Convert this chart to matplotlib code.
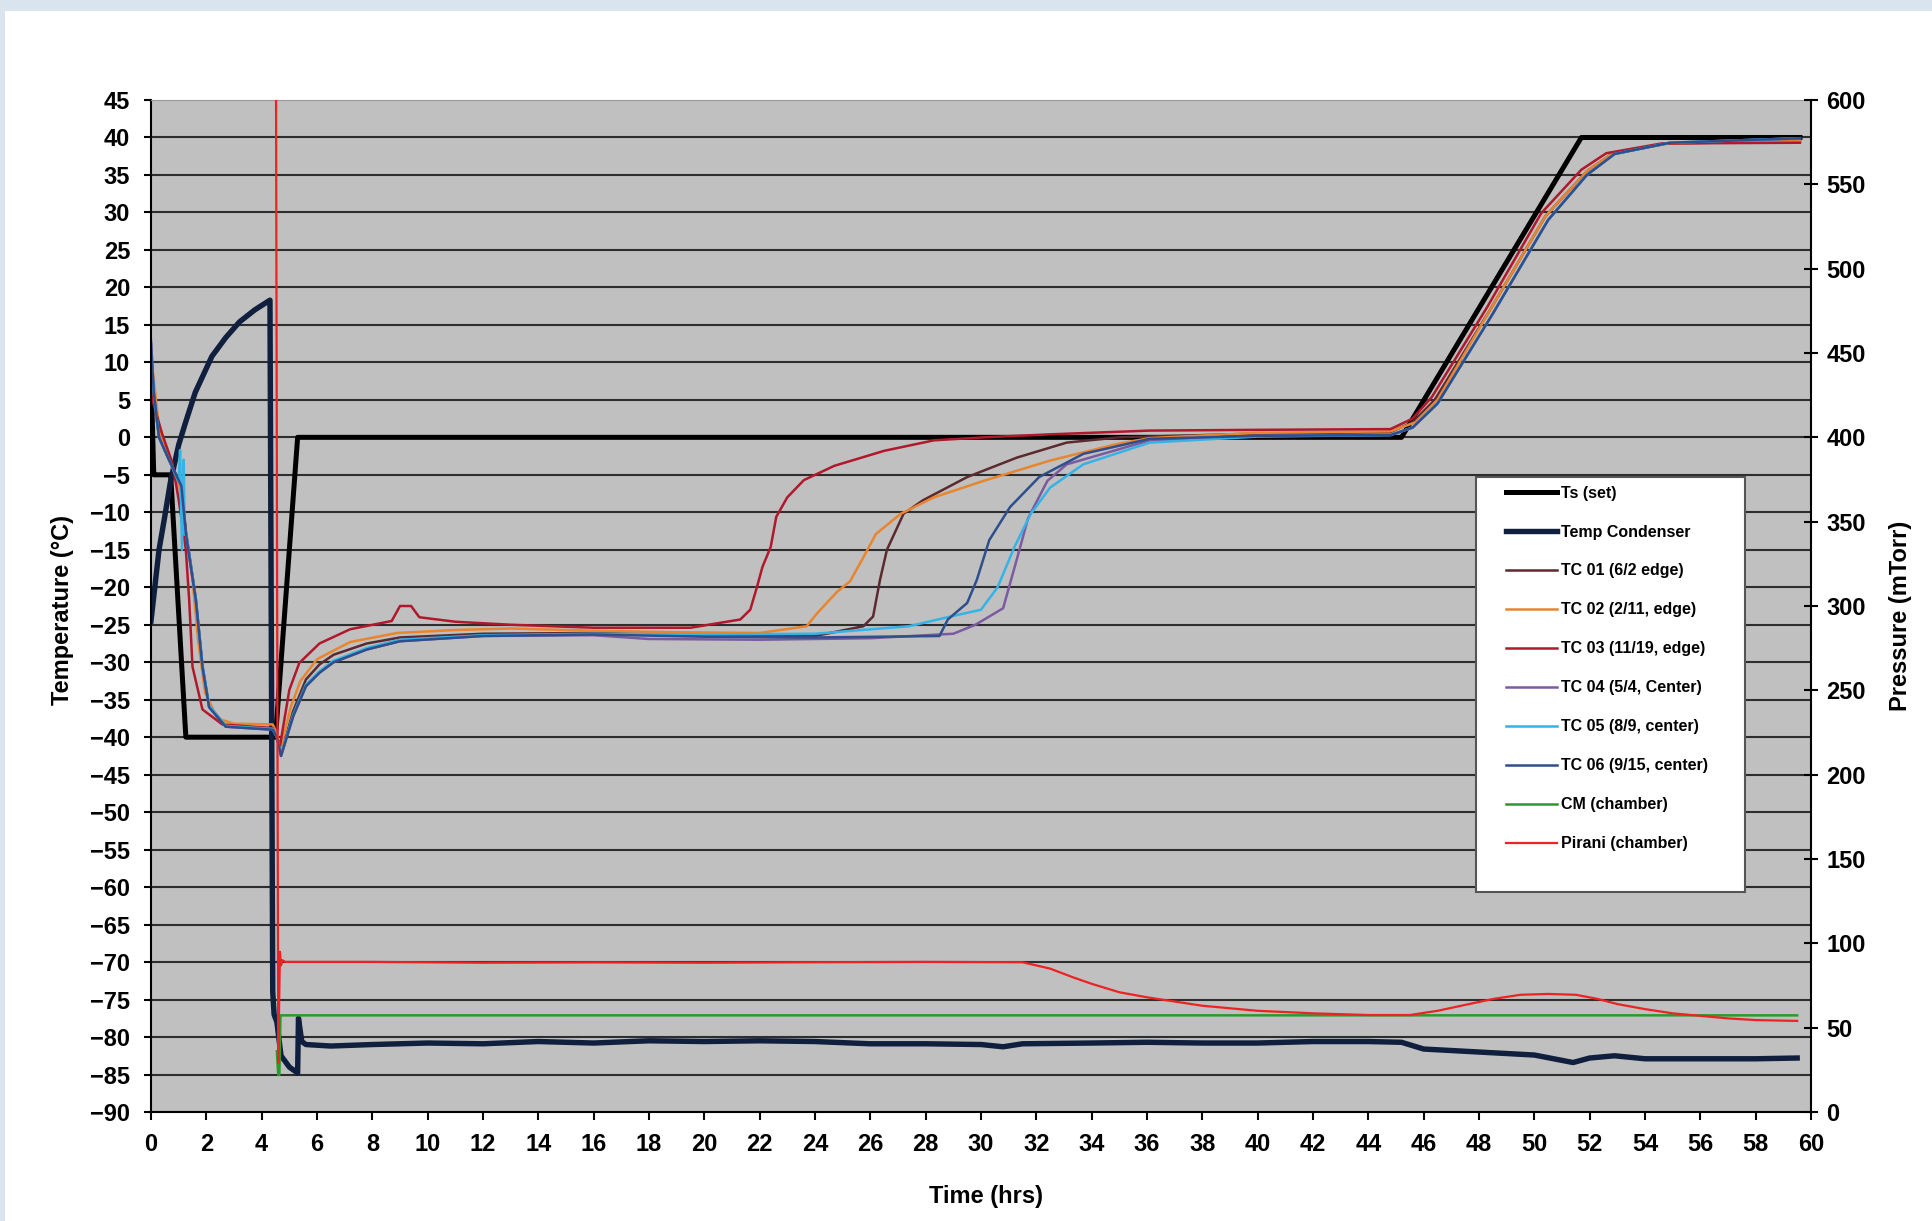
import numpy as np
import matplotlib
matplotlib.use("Agg")
import matplotlib.pyplot as plt
from matplotlib.patches import Rectangle

plt.rcParams['font.family'] = ['Liberation Sans', 'DejaVu Sans']

# ---- data ----
# shelf set point
ts_t = [0, 0.1, 0.17, 0.71, 1.26, 4.5, 5.3, 45.2, 51.7, 59.6]
ts_T = [8.6, -5, -5, -5, -40, -40, 0, 0, 40, 40]

# condenser temperature
cond_t = [0, 0.29, 0.5, 0.7, 1.0, 1.25, 1.6, 2.2, 2.7, 3.2, 3.75, 4.3, 4.4, 4.45, 4.55,
          4.7, 5.0, 5.3, 5.33, 5.45, 5.6, 6.5, 8, 10, 12, 14, 16, 18, 20, 22, 24, 26, 28,
          30, 30.8, 31.5, 34, 36, 38, 40, 42, 44, 45.2, 46, 48, 50, 51.4, 52, 52.9, 54, 56,
          58, 59.5]
cond_T = [-24.5, -15, -10.5, -6, -1, 2, 6, 10.8, 13.3, 15.4, 17, 18.3, -74, -77, -78,
          -82.5, -84, -84.8, -77.5, -80.6, -81, -81.2, -81, -80.8, -80.9, -80.6, -80.8,
          -80.5, -80.6, -80.5, -80.6, -80.9, -80.9, -81.0, -81.3, -80.9, -80.8, -80.7,
          -80.8, -80.8, -80.6, -80.6, -80.7, -81.6, -82, -82.4, -83.4, -82.8, -82.5, -82.9,
          -82.9, -82.9, -82.8]

# product thermocouples
tc01_t = [0, 0.1, 0.29, 0.65, 1.1, 1.26, 1.62, 1.86, 2.1, 2.7, 4.4, 4.55, 4.7, 5.14, 5.6,
          6.09, 6.6, 7.8, 9, 12, 16, 20, 24, 25.75, 26.1, 26.35, 26.6, 27.2, 27.9, 29.5,
          31.3, 33.1, 35, 40, 44.8, 45.6, 46.4, 48.4, 50.4, 51.9, 52.8, 54.8, 59.6]
tc01_T = [11.5, 5.5, 0, -3, -6.5, -12.5, -21.5, -30.5, -35.8, -38.5, -38.8, -40, -42.3,
          -36.5, -32.3, -30.3, -29, -27.5, -26.7, -26.2, -26.1, -26.4, -26.5, -25.2, -23.9,
          -19, -15, -10.2, -8.4, -5.3, -2.7, -0.7, 0, 0.5, 0.7, 2, 5, 17, 29.5, 35.5, 37.8,
          39.2, 39.5]

tc02_t = [0, 0.3, 0.7, 1.05, 1.3, 1.5, 1.7, 1.95, 2.4, 3.0, 4.4, 4.55, 4.68, 5.05, 5.4,
          6.0, 7.2, 8.9, 11, 13, 16, 19, 22, 23.7, 24.07, 24.8, 25.27, 25.75, 26.2, 27.1,
          28.3, 30.1, 32.5, 34.9, 36.1, 40, 44.8, 45.7, 46.5, 48.4, 50.4, 51.9, 52.8, 54.8,
          59.6]
tc02_T = [11, 1, -3, -7, -14, -19, -27, -34, -37.5, -38.2, -38.3, -39.5, -41.5, -36,
          -32.5, -29.6, -27.3, -26.1, -25.7, -25.5, -25.8, -26, -26.1, -25.2, -23.5, -20.6,
          -19.2, -16, -12.9, -10.2, -8, -5.8, -3.1, -0.9, -0.1, 0.6, 0.8, 2.0, 5.0, 17.0,
          29.5, 35.5, 37.8, 39.2, 39.5]

tc03_t = [0, 0.05, 0.4, 0.77, 1.0, 1.26, 1.38, 1.5, 1.86, 2.58, 4.4, 4.55, 4.66, 5.0,
          5.36, 6.09, 7.2, 8.7, 9.0, 9.4, 9.7, 11, 13, 16, 19.5, 21.3, 21.66, 21.9, 22.1,
          22.4, 22.6, 23.0, 23.6, 24.7, 26.5, 28.3, 30.1, 32.5, 36.1, 40, 44.8, 45.6, 46.3,
          48.3, 50.25, 51.7, 52.6, 54.6, 59.6]
tc03_T = [9, 5, 0.5, -3.4, -8.3, -15, -21.7, -30.6, -36.3, -38.3, -38.8, -40, -41.2,
          -33.7, -30.1, -27.5, -25.6, -24.5, -22.5, -22.5, -24, -24.6, -25, -25.4, -25.4,
          -24.3, -23, -20, -17.3, -14.6, -10.6, -8, -5.7, -3.8, -1.8, -0.4, 0, 0.4, 0.9,
          1.0, 1.1, 2.5, 5.4, 17.4, 29.9, 35.7, 37.9, 39.2, 39.3]

tc04_t = [0, 0.1, 0.29, 0.65, 1.1, 1.26, 1.62, 1.86, 2.1, 2.7, 4.4, 4.55, 4.7, 5.14, 5.6,
          6.09, 6.6, 7.8, 9, 12, 16, 18, 22, 26, 29, 29.8, 30.8, 31.3, 31.7, 32.4, 33.1,
          36.1, 40, 44.8, 45.6, 46.5, 48.5, 50.5, 51.9, 52.9, 54.9, 59.6]
tc04_T = [13, 6, 0, -3, -6.5, -12.8, -21.7, -30.6, -36, -38.6, -39, -40, -42.5, -37.2,
          -33.2, -31.4, -30, -28.3, -27.2, -26.5, -26.4, -26.9, -27, -26.8, -26.2, -25,
          -22.8, -16.2, -10.8, -5.8, -3.6, -0.4, 0.2, 0.3, 1.3, 4.5, 16.5, 29, 35, 37.8,
          39.3, 39.9]

tc05_t = [0, 0.1, 0.29, 0.65, 1.0, 1.05, 1.12, 1.18, 1.22, 1.26, 1.62, 1.86, 2.1, 2.7,
          4.4, 4.55, 4.7, 5.14, 5.6, 6.09, 6.6, 7.8, 9, 12, 16, 20, 24, 27.4, 28.9, 30.0,
          30.6, 31.2, 31.8, 32.5, 33.7, 36.1, 40, 44.8, 45.6, 46.5, 48.5, 50.5, 51.9, 52.9,
          54.9, 59.6]
tc05_T = [12, 6, 0, -3, -6, -1.7, -15, -3, -13, -12.5, -21.5, -30.4, -35.8, -38.5, -38.9,
          -40, -42.3, -37, -33, -31.2, -29.8, -28.1, -27, -26.4, -26.2, -26.3, -26.2,
          -25.2, -23.9, -23, -20, -14.7, -10.2, -6.7, -3.6, -0.7, 0.1, 0.3, 1.3, 4.5,
          16.5, 29, 35, 37.8, 39.3, 39.9]

tc06_t = [0, 0.1, 0.29, 0.65, 1.1, 1.26, 1.62, 1.86, 2.1, 2.7, 4.4, 4.55, 4.7, 5.14, 5.6,
          6.09, 6.6, 7.8, 9, 12, 16, 20, 24, 28.5, 28.8, 29.5, 29.85, 30.3, 31.05, 32.1,
          33.7, 36.1, 40, 44.8, 45.6, 46.5, 48.5, 50.5, 51.9, 52.9, 54.9, 59.6]
tc06_T = [12.5, 6, 0, -3, -6.5, -12.8, -21.7, -30.6, -36, -38.6, -39, -40, -42.5, -37.2,
          -33.2, -31.4, -30, -28.3, -27.2, -26.5, -26.3, -26.6, -26.7, -26.5, -24.3,
          -22.1, -19, -13.7, -9.3, -5.3, -2.2, -0.2, 0.2, 0.3, 1.3, 4.5, 16.5, 29, 35,
          37.8, 39.3, 39.9]

# chamber pressures (mTorr)
cm_t = [4.55, 4.6, 4.64, 4.68, 10, 20, 30, 40, 50, 59.5]
cm_P = [36, 22, 22, 57.3, 57.3, 57.3, 57.3, 57.3, 57.3, 57.3]

pir_t = [4.52, 4.56, 4.6, 4.66, 4.7, 4.75, 4.85, 5, 8, 12, 16, 20, 24, 28, 31.5, 32.5,
         33.3, 34, 35, 36, 37, 38, 40, 42, 44, 45.5, 46.5, 47.5, 48.5, 49.5, 50.5, 51.5,
         52.3, 53, 54, 55, 56, 57, 58, 59.5]
pir_P = [600, 300, 29, 95, 87, 90, 89, 89, 89, 88.5, 88.7, 88.5, 88.8, 89, 88.8, 85, 80,
         76, 71, 68, 65.5, 63, 60, 58.5, 57.5, 57.5, 60, 63.5, 67, 69.5, 70, 69.5, 67, 64,
         61, 58.5, 57, 55.5, 54.5, 54]

temp_ticks = list(range(-90, 50, 5))
press_ticks = list(range(0, 650, 50))
time_ticks = list(range(0, 62, 2))

# ---- figure ----
W, H = 1932, 1221
fig = plt.figure(figsize=(W / 100, H / 100), dpi=100)
fig.patch.set_facecolor('#dae4ef')
fig.add_artist(Rectangle((5 / W, 0), 1, 1 - 11 / H, transform=fig.transFigure,
                         facecolor='white', edgecolor='none', zorder=-1))

ax = fig.add_axes([151 / W, 1 - 1112 / H, (1811 - 151) / W, (1112 - 100) / H])
ax.set_facecolor('#c0c0c0')
ax.set_xlim(0, 60)
ax.set_ylim(-90, 45)
ax.set_xticks(time_ticks)
ax.set_yticks(temp_ticks)
ax.yaxis.grid(True, color='#2e2e2e', lw=1.5)
ax.get_ygridlines()[-1].set_color('#9a9a9a')
ax.set_axisbelow(True)
for s in ['left', 'bottom', 'right']:
    ax.spines[s].set_color('black')
    ax.spines[s].set_linewidth(1.5)
ax.spines['top'].set_color('#9a9a9a')
ax.tick_params(axis='y', direction='out', length=5, width=1.5, pad=10, labelsize=17)
ax.tick_params(axis='x', direction='out', length=6, width=1.5, pad=9, labelsize=17)
for lab in ax.get_xticklabels() + ax.get_yticklabels():
    lab.set_fontweight('bold')

lines = []
lines += ax.plot(ts_t, ts_T, color='black', lw=3.6, label='Ts (set)')
lines += ax.plot(cond_t, cond_T, color='#0f1f3d', lw=3.9, label='Temp Condenser')
lines += ax.plot(tc01_t, tc01_T, color='#5c2a2e', lw=1.8, label='TC 01 (6/2 edge)')
lines += ax.plot(tc02_t, tc02_T, color='#e8852e', lw=1.8, label='TC 02 (2/11, edge)')
lines += ax.plot(tc03_t, tc03_T, color='#b0192c', lw=1.8, label='TC 03 (11/19, edge)')
lines += ax.plot(tc04_t, tc04_T, color='#7b5aa0', lw=1.8, label='TC 04 (5/4, Center)')
lines += ax.plot(tc05_t, tc05_T, color='#35b3e6', lw=1.8, label='TC 05 (8/9, center)')
lines += ax.plot(tc06_t, tc06_T, color='#2f4f8c', lw=1.8, label='TC 06 (9/15, center)')

ax2 = ax.twinx()
ax2.set_ylim(0, 600)
ax2.set_yticks(press_ticks)
ax2.tick_params(axis='y', direction='inout', length=10, width=1.5, pad=6, labelsize=17)
for lab in ax2.get_yticklabels():
    lab.set_fontweight('bold')
for s in ax2.spines.values():
    s.set_visible(False)
lines += ax2.plot(cm_t, cm_P, color='#2a9a2a', lw=1.8, label='CM (chamber)')
lines += ax2.plot(pir_t, pir_P, color='#ee2222', lw=1.6, label='Pirani (chamber)')

# legend box
ax2.add_patch(Rectangle((0.798, 0.217), 0.162, 0.41, transform=ax2.transAxes,
                        facecolor='white', edgecolor='#555555', lw=1.5, zorder=10))
leg = ax2.legend(handles=lines, loc='upper left', bbox_to_anchor=(0.816, 0.619),
                 bbox_transform=ax2.transAxes, frameon=False,
                 prop={'size': 11.5, 'weight': 'bold'},
                 handlelength=3.2, handletextpad=0.3, labelspacing=1.5,
                 borderpad=0, borderaxespad=0)
leg.set_zorder(11)

fig.text(62 / W, 1 - 610 / H, 'Temperature (°C)', rotation=90, ha='center', va='center',
         fontsize=17, fontweight='bold')
fig.text(1901 / W, 1 - 616 / H, 'Pressure (mTorr)', rotation=90, ha='center', va='center',
         fontsize=17, fontweight='bold')
fig.text(986 / W, 1 - 1197 / H, 'Time (hrs)', ha='center', va='center',
         fontsize=17, fontweight='bold')

fig.savefig('out.png', dpi=100, facecolor=fig.get_facecolor())
